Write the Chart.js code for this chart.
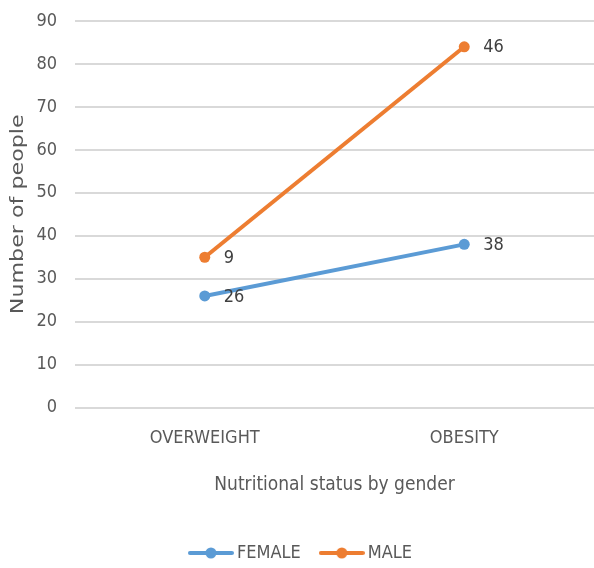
<!DOCTYPE html>
<html>
<head>
<meta charset="utf-8">
<script src="https://cdn.jsdelivr.net/npm/chart.js@4/dist/chart.umd.min.js"></script>
<style>
  html, body { margin: 0; padding: 0; background: #ffffff; }
  #wrap { width: 594px; height: 568px; }
</style>
</head>
<body>
<div id="wrap"><canvas id="c" width="594" height="568"></canvas></div>
<script>
// Nutritional status categories
const categories = ['OVERWEIGHT', 'OBESITY'];
// Number of people per gender (stacked lines)
const femaleValues = [26, 38];
const maleValues = [9, 46];
const seriesNames = ['FEMALE', 'MALE'];
const yTicks = [0, 10, 20, 30, 40, 50, 60, 70, 80, 90];
const yTitle = 'Number of people';
const xTitle = 'Nutritional status by gender';

const FONT = '"DejaVu Sans Condensed", "Liberation Sans Narrow", "Liberation Sans", sans-serif';
const BLUE = '#5B9BD5';
const ORANGE = '#ED7D31';
const TEXT = '#595959';

// Legend marker: short line with a dot in the middle
function legendMarker(color) {
  const cv = document.createElement('canvas');
  cv.width = 46; cv.height = 12;
  const g = cv.getContext('2d');
  g.strokeStyle = color; g.lineWidth = 4; g.lineCap = 'round';
  g.beginPath(); g.moveTo(2, 6); g.lineTo(44, 6); g.stroke();
  g.fillStyle = color;
  g.beginPath(); g.arc(23, 6, 5.5, 0, Math.PI * 2); g.fill();
  return cv;
}

// Value labels to the right of each point
const valueLabels = {
  id: 'valueLabels',
  afterDatasetsDraw(chart) {
    const ctx = chart.ctx;
    ctx.save();
    ctx.font = '18px ' + FONT;
    ctx.fillStyle = '#404040';
    ctx.textAlign = 'left';
    ctx.textBaseline = 'middle';
    chart.data.datasets.forEach((ds, i) => {
      const meta = chart.getDatasetMeta(i);
      meta.data.forEach((pt, j) => {
        ctx.fillText(String(ds.data[j]), pt.x + 19, pt.y + 1);
      });
    });
    ctx.restore();
  }
};

// Vertical axis title, stretched along its reading direction
const yAxisTitle = {
  id: 'yAxisTitle',
  afterDraw(chart) {
    const ctx = chart.ctx;
    const area = chart.chartArea;
    ctx.save();
    ctx.translate(18, (area.top + area.bottom) / 2);
    ctx.rotate(-Math.PI / 2);
    ctx.scale(1.37, 1);
    ctx.font = '18px ' + FONT;
    ctx.fillStyle = TEXT;
    ctx.textAlign = 'center';
    ctx.textBaseline = 'middle';
    ctx.fillText(yTitle, 0, 0);
    ctx.restore();
  }
};

new Chart(document.getElementById('c'), {
  type: 'line',
  data: {
    labels: categories,
    datasets: [
      {
        label: seriesNames[0], data: femaleValues,
        borderColor: BLUE, backgroundColor: BLUE,
        borderWidth: 4, pointRadius: 5.5, pointHoverRadius: 5.5,
        pointBackgroundColor: BLUE, pointBorderWidth: 0, fill: false
      },
      {
        label: seriesNames[1], data: maleValues,
        borderColor: ORANGE, backgroundColor: ORANGE,
        borderWidth: 4, pointRadius: 5.5, pointHoverRadius: 5.5,
        pointBackgroundColor: ORANGE, pointBorderWidth: 0, fill: false
      }
    ]
  },
  options: {
    responsive: false,
    animation: false,
    devicePixelRatio: 1,
    layout: { autoPadding: false, padding: { left: 12, right: 0, top: 21, bottom: -4 } },
    plugins: {
      tooltip: { enabled: false },
      legend: {
        position: 'bottom',
        labels: {
          usePointStyle: true,
          pointStyleWidth: 34,
          font: { family: FONT, size: 18 },
          color: TEXT,
          padding: 24,
          generateLabels(chart) {
            return chart.data.datasets.map((ds, i) => ({
              text: ds.label,
              pointStyle: legendMarker(ds.borderColor),
              fillStyle: ds.borderColor,
              strokeStyle: ds.borderColor,
              lineWidth: 0,
              hidden: false,
              datasetIndex: i,
              fontColor: TEXT
            }));
          }
        }
      }
    },
    scales: {
      x: {
        offset: true,
        grid: { display: false, drawTicks: false },
        border: { display: false },
        ticks: { font: { family: FONT, size: 18 }, color: TEXT, padding: 20 },
        title: {
          display: true, text: xTitle,
          font: { family: FONT, size: 19 }, color: TEXT,
          padding: { top: 4, bottom: 24 }
        },
        afterFit(scale) { scale.paddingLeft = 0; scale.paddingRight = 0; }
      },
      y: {
        stacked: true,
        min: 0, max: 90,
        afterBuildTicks(axis) { axis.ticks = yTicks.map(v => ({ value: v })); },
        afterFit(scale) { scale.width = 63; scale.paddingTop = 0; scale.paddingBottom = 0; },
        grid: { color: '#d9d9d9', lineWidth: 2, drawTicks: false },
        border: { display: false },
        ticks: { font: { family: FONT, size: 18 }, color: TEXT, padding: 18 },
        title: { display: false }
      }
    }
  },
  plugins: [valueLabels, yAxisTitle]
});
</script>
</body>
</html>
